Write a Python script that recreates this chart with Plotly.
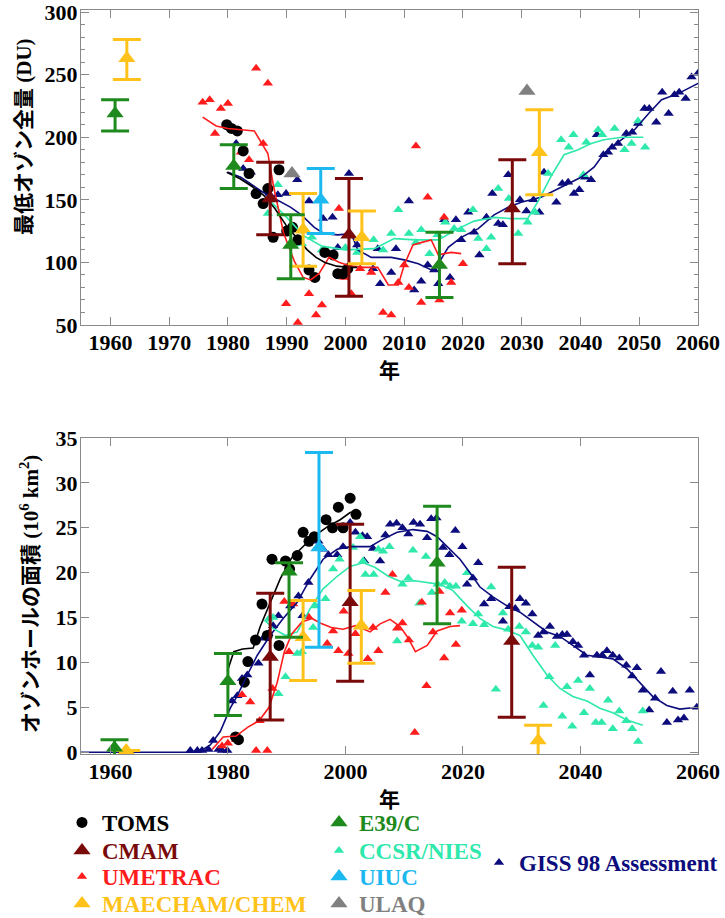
import plotly.graph_objects as go

# ---------------- Top panel: minimum total ozone (DU) ----------------
toms_min_year = [1979.8, 1980.6, 1981.6, 1982.6, 1983.6, 1984.8, 1986.0, 1986.8, 1987.7, 1988.7,
                 1990.0, 1991.0, 1991.9, 1993.8, 1994.8, 1996.5, 1997.9, 1998.7, 1999.6, 2000.4]
toms_min_du = [210, 207, 205, 189, 171, 155, 147, 159, 120, 174,
               125, 128, 118, 94, 88, 108, 106, 91, 91, 95]
toms_min_fit_year = [1979.8, 1982, 1984, 1986, 1988, 1990, 1992, 1993.5, 1995, 1996.5, 1998.5, 2000.5, 2002]
toms_min_fit_du = [172, 167, 161, 154, 143, 129, 118, 110, 104, 100, 97, 96, 96]

umetrac_min_year = [1975.7, 1976.9, 1977.8, 1978.8, 1980.0, 1982.2, 1983.6, 1984.8, 1986.0, 1986.8,
                    1989.9, 1991.9, 1993.8, 1995.0, 1996.0, 1998.9, 1999.8, 2001.0, 2002.5, 2004.4,
                    2006.4, 2007.8, 2009.0, 2010.0, 2010.8, 2012.0, 2012.9, 2014.0, 2016.0, 2016.8,
                    2018.0, 2020.0]
umetrac_min_du = [228, 230, 203, 223, 227, 188, 182, 255, 195, 243,
                  67, 52, 75, 58, 66, 143, 88, 75, 95, 92,
                  60, 58, 84, 98, 80, 193, 68, 152, 70, 136,
                  84, 99]
umetrac_min_fit_year = [1975.7, 1978, 1980, 1982, 1984.5, 1986.8, 1987.8, 1989.5, 1991.3, 1992.8,
                        1994.1, 1995.5, 1997.2, 1999, 2001, 2003, 2005.5, 2007.3, 2009, 2010,
                        2011.5, 2013, 2014.6, 2015.8, 2018, 2019.7]
umetrac_min_fit_du = [216, 209, 207, 206, 205, 187, 160, 123, 101, 88,
                      86, 91, 104, 100, 97, 96, 96, 82, 82, 98,
                      114, 116, 118, 106, 108, 107]

ccsr_min_year = [1986.8, 1988.5, 1992.6, 1994.3, 1996.0, 1998.0, 2000.0, 2002.0, 2004.8, 2006.4,
                 2007.8, 2009.0, 2010.8, 2012.0, 2012.9, 2014.3, 2015.7, 2017.0, 2018.5, 2019.7,
                 2021.7, 2022.6, 2024.0, 2024.8, 2026.0, 2027.8, 2029.4, 2031.0, 2032.3, 2034.5,
                 2036.7, 2038.0, 2038.8, 2040.5, 2041.0, 2043.0, 2043.7, 2045.8, 2047.5, 2048.7,
                 2049.8, 2051.0]
ccsr_min_du = [139, 162, 115, 120, 110, 105, 112, 108, 118, 110,
               123, 142, 123, 116, 126, 107, 122, 132, 127, 126,
               142, 119, 111, 120, 159, 151, 123, 132, 140, 171,
               198, 192, 202, 170, 196, 206, 202, 207, 190, 195,
               213, 192]
ccsr_min_fit_year = [1987, 1990, 1993, 1996, 2000, 2004.9, 2008.3, 2012, 2015.8, 2019.2,
                     2021.9, 2025.3, 2028.2, 2031, 2032.8, 2035, 2037.2, 2039.6, 2041.8, 2044,
                     2047, 2050.7]
ccsr_min_fit_du = [150, 136, 121, 113, 110, 111, 119, 118, 118, 127,
                   133, 136, 135, 135, 149, 169, 186, 190, 195, 198,
                   200, 200]

giss_min_year = [1981.4, 1982.6, 1983.9, 1987.0, 1988.5, 1989.9, 1991.8, 1993.8, 1996.2, 1997.8,
                 1998.7, 2000.6, 2002.0, 2004.7, 2005.5, 2005.9, 2007.8, 2008.6, 2010.8, 2011.7,
                 2012.9, 2014.0, 2015.1, 2015.8, 2016.8, 2017.8, 2018.8, 2019.7, 2020.9, 2021.9,
                 2022.8, 2024.0, 2025.0, 2026.0, 2026.8, 2027.7, 2029.7, 2030.8, 2032.0, 2033.0,
                 2033.8, 2035.9, 2036.9, 2037.9, 2038.9, 2039.8, 2040.8, 2041.8, 2042.8, 2043.9,
                 2044.7, 2045.4, 2046.4, 2047.8, 2048.8, 2049.8, 2050.9, 2051.7, 2052.9, 2053.9,
                 2055.0, 2056.0, 2056.8, 2057.9, 2058.9, 2060.0]
giss_min_du = [195, 175, 172, 155, 154, 155, 166, 149, 135, 136,
               112, 171, 114, 95, 111, 83, 92, 111, 149, 78,
               85, 98, 94, 83, 134, 88, 134, 118, 140, 124,
               106, 136, 155, 131, 130, 170, 150, 141, 150, 140,
               172, 148, 163, 164, 155, 158, 168, 166, 202, 186,
               188, 192, 195, 203, 204, 211, 223, 223, 212, 236,
               219, 234, 236, 231, 248, 251]
giss_min_fit_year = [1980, 1982.2, 1986, 1990.7, 1992.5, 1994.7, 1996.4, 1998.7, 2001, 2002.1,
                     2004.4, 2007.8, 2010, 2012.4, 2014.6, 2015.8, 2017.5, 2019.7, 2022.6, 2025.3,
                     2027.7, 2029.9, 2033.3, 2036.7, 2040.1, 2042.3, 2044, 2047, 2049.2, 2051.6,
                     2053.8, 2056.7, 2060]
giss_min_fit_du = [172, 168, 156, 144, 138, 128, 123, 122, 123, 110,
                   104, 104, 102, 99, 94, 99, 112, 120, 127, 138,
                   144, 148, 152, 160, 168, 176, 187, 198, 206, 219,
                   230, 235, 243]

cmam_min_year = [1987.2, 2000.6, 2028.4]
cmam_min_du = [151, 122, 143]
cmam_min_hi = [180, 167, 182]
cmam_min_lo = [122, 73, 99]

maecham_min_year = [1962.8, 1992.8, 2002.8, 2033.0]
maecham_min_du = [263, 126, 120, 188]
maecham_min_hi = [278, 155, 141, 222]
maecham_min_lo = [246, 97, 99, 154]

e39c_min_year = [1960.8, 1981.0, 1990.7, 2016.0]
e39c_min_du = [219, 177, 114, 98]
e39c_min_hi = [230, 194, 138, 124]
e39c_min_lo = [205, 159, 87, 72]

uiuc_min_year = [1995.8]
uiuc_min_du = [150]
uiuc_min_hi = [175]
uiuc_min_lo = [123]

ulaq_min_year = [1990.9, 2030.9]
ulaq_min_du = [171, 237]

# ---------------- Bottom panel: ozone hole area (10^6 km^2) ----------------
toms_area_year = [1981.3, 1981.8, 1982.8, 1983.4, 1984.7, 1985.8, 1986.7, 1987.5, 1988.7, 1989.8,
                  1990.5, 1991.8, 1992.8, 1993.8, 1994.7, 1996.7, 1997.8, 1998.8, 1999.6, 2000.8,
                  2001.8]
toms_area_val = [1.7, 1.4, 7.8, 10.1, 12.5, 16.5, 13.0, 21.5, 11.9, 21.3,
                 20.4, 21.9, 24.5, 23.5, 24.0, 25.9, 25.0, 27.3, 25.0, 28.3,
                 26.5]
toms_area_fit_year = [1979.9, 1981, 1982.5, 1984.3, 1985.5, 1987.2, 1988.9, 1990.9, 1992.8, 1994.5,
                      1996.9, 1999.1, 2000.8, 2001.7]
toms_area_fit_val = [9.0, 11.2, 11.5, 11.6, 14.0, 16.7, 19.3, 21.7, 22.9, 24.0,
                     25.1, 25.9, 26.7, 26.8]

umetrac_area_year = [1979.0, 1980.0, 1981.4, 1982.4, 1983.8, 1984.8, 1985.4, 1986.7, 1987.6, 1989.6,
                     1990.4, 1991.1, 1993.7, 1996.9, 1997.9, 1998.8, 1999.7, 2000.5, 2001.7, 2003.8,
                     2004.7, 2005.6, 2006.8, 2008.0, 2008.8, 2009.7, 2010.8, 2011.8, 2013.0, 2013.8,
                     2014.9, 2016.0, 2016.8, 2017.8, 2018.8, 2019.8]
umetrac_area_val = [0.7, 1.0, 1.4, 6.4, 5.6, 0.2, 3.5, 0.2, 7.1, 16.8,
                    11.2, 16.5, 15.1, 12.1, 13.5, 11.3, 15.7, 11.0, 13.2, 10.4,
                    13.9, 11.3, 17.8, 19.8, 13.8, 14.4, 12.5, 2.2, 16.7, 7.4,
                    13.4, 17.9, 10.5, 15.5, 12.0, 15.8]
umetrac_area_fit_year = [1977.3, 1979.2, 1981.4, 1983.4, 1985.3, 1987.0, 1988.4, 1989.6, 1990.9, 1992.6,
                         1994.3, 1996.0, 1997.6, 1999.6, 2001.7, 2004.2, 2005.9, 2007.6, 2009.3, 2010.7,
                         2011.9, 2013.9, 2015.6, 2017.8, 2019.5]
umetrac_area_fit_val = [0.3, 1.7, 1.8, 2.8, 3.5, 5.0, 7.8, 11.2, 13.2, 14.5,
                        14.9, 14.3, 13.9, 13.7, 14.1, 13.4, 14.3, 14.8, 14.0, 12.7,
                        11.2, 11.9, 13.5, 14.0, 14.1]

ccsr_area_year = [1986.9, 1987.7, 1988.6, 1989.8, 1991.8, 1992.6, 1994.5, 1994.9, 1996.6, 1997.9,
                  1999.0, 2001.3, 2002.5, 2003.0, 2003.4, 2004.8, 2005.6, 2006.4, 2007.5, 2008.8,
                  2009.7, 2010.7, 2011.5, 2012.6, 2013.7, 2014.7, 2015.7, 2016.9, 2017.8, 2018.8,
                  2019.8, 2020.7, 2021.7, 2022.6, 2023.6, 2024.8, 2025.6, 2026.8, 2027.7, 2029.6,
                  2030.7, 2031.8, 2032.8, 2033.7, 2034.7, 2035.7, 2036.9, 2037.7, 2038.6, 2039.6,
                  2040.6, 2041.6, 2042.6, 2043.6, 2044.7, 2045.5, 2046.6, 2047.8, 2048.8, 2049.8,
                  2050.6]
ccsr_area_val = [14.8, 15.0, 6.5, 8.4, 11.0, 11.2, 13.9, 16.3, 17.1, 20.4,
                 21.5, 22.8, 24.0, 21.3, 19.8, 19.8, 22.6, 22.4, 22.9, 12.4,
                 18.7, 19.4, 22.5, 16.6, 21.8, 17.8, 18.7, 18.9, 18.5, 18.5,
                 14.6, 20.0, 14.3, 15.4, 14.2, 18.4, 7.0, 15.5, 13.7, 14.0,
                 13.4, 11.9, 11.7, 5.2, 8.4, 11.9, 4.0, 7.3, 2.9, 8.0,
                 4.4, 7.1, 3.3, 3.3, 5.8, 2.6, 4.6, 3.5, 2.6, 1.2,
                 4.6]
ccsr_area_fit_year = [1986.4, 1987.7, 1989.8, 1991.8, 1994.0, 1996.2, 1998.6, 2000.8, 2003.0, 2005.0,
                      2007.3, 2009.5, 2011.8, 2013.9, 2016.1, 2018.3, 2020.7, 2022.9, 2025.1, 2027.5,
                      2029.7, 2031.9, 2034.3, 2036.5, 2038.7, 2041.1, 2043.3, 2045.5, 2047.9, 2050.6]
ccsr_area_fit_val = [14.6, 13.8, 13.0, 13.4, 16.0, 18.2, 19.6, 20.7, 21.1, 20.6,
                     19.6, 19.0, 19.1, 18.9, 18.7, 18.0, 16.3, 14.9, 14.0, 13.6,
                     13.0, 10.8, 8.6, 7.1, 6.2, 5.7, 4.9, 4.4, 3.6, 3.0]

giss_area_year = [1973.6, 1974.8, 1975.6, 1976.7, 1977.5, 1978.4, 1979.0, 1979.9, 1980.7, 1981.6,
                  1982.4, 1983.3, 1985.2, 1986.0, 1986.9, 1987.7, 1988.6, 1990.6, 1992.0, 1992.7,
                  1993.7, 1995.4, 1996.2, 1997.1, 1998.6, 1999.6, 2000.8, 2001.7, 2002.9, 2003.2,
                  2003.7, 2004.7, 2005.9, 2006.8, 2007.6, 2008.7, 2009.7, 2010.7, 2011.6, 2012.7,
                  2013.9, 2014.6, 2015.5, 2016.6, 2017.7, 2018.7, 2019.9, 2020.7, 2021.7, 2022.6,
                  2023.6, 2024.8, 2026.8, 2027.9, 2028.9, 2029.7, 2030.7, 2031.8, 2032.8, 2033.7,
                  2034.8, 2036.0, 2036.9, 2037.7, 2038.7, 2039.6, 2040.6, 2041.6, 2042.8, 2043.7,
                  2044.5, 2045.5, 2046.6, 2047.8, 2048.8, 2049.6, 2050.6, 2051.7, 2052.7, 2053.7,
                  2054.7, 2055.7, 2056.6, 2057.6, 2058.6, 2059.8]
giss_area_val = [0.2, 0.2, 0.2, 0.3, 1.3, 0.3, 0.2, 0.2, 5.7, 6.3,
                 8.2, 8.6, 9.9, 12.7, 13.2, 14.1, 15.2, 16.3, 17.4, 15.2,
                 18.9, 23.5, 22.6, 22.0, 22.0, 22.9, 25.6, 24.5, 24.1, 21.3,
                 24.0, 22.7, 21.3, 24.2, 25.4, 25.5, 25.0, 24.3, 25.6, 25.4,
                 23.9, 26.0, 26.1, 22.8, 22.0, 24.7, 22.9, 18.7, 19.4, 21.1,
                 16.5, 17.1, 14.6, 16.2, 16.0, 17.1, 16.6, 15.4, 13.0, 13.4,
                 14.0, 12.9, 13.1, 13.1, 12.3, 11.9, 10.8, 8.6, 10.8, 10.8,
                 11.3, 10.8, 10.5, 9.7, 8.5, 9.4, 6.9, 4.7, 6.0, 9.0,
                 3.3, 6.8, 3.6, 3.8, 6.9, 5.0]
giss_area_fit_year = [1955, 1975, 1977, 1978.7, 1980.4, 1981.6, 1983.3, 1985, 1987.2, 1989.4,
                      1991.8, 1994, 1996.2, 1998.6, 2000.8, 2004.2, 2006, 2008.8, 2011.5, 2013.9,
                      2015.6, 2017.8, 2019.5, 2021.2, 2022.9, 2025.1, 2027.5, 2029.7, 2031.9, 2034.3,
                      2036.5, 2038.7, 2041.1, 2043.3, 2045.5, 2047.9, 2050.1, 2052.3, 2054.7, 2056.9,
                      2059.8]
giss_area_fit_val = [0, 0, 0.8, 2.3, 4.9, 6.3, 8.6, 10.8, 13.0, 14.9,
                     16.7, 19.3, 21.5, 22.6, 22.9, 22.9, 23.6, 24.5, 24.8, 24.6,
                     24.0, 22.6, 21.5, 20.0, 18.4, 17.3, 16.3, 15.6, 14.5, 13.4,
                     12.9, 11.9, 10.8, 10.6, 10.4, 9.3, 7.7, 6.2, 5.2, 4.8,
                     5.0]

cmam_area_year = [1987.2, 2000.8, 2028.3]
cmam_area_val = [10.6, 16.7, 12.4]
cmam_area_hi = [17.7, 25.4, 20.6]
cmam_area_lo = [3.6, 7.9, 3.9]

maecham_area_year = [1962.7, 1992.8, 2002.7, 2032.8]
maecham_area_val = [0.2, 12.8, 14.1, 1.3]
maecham_area_hi = [0.2, 16.9, 18.0, 3.0]
maecham_area_lo = [0.2, 8.0, 9.9, -1.1]

e39c_area_year = [1960.7, 1980.0, 1990.4, 2015.6]
e39c_area_val = [0.5, 7.9, 20.1, 21.1]
e39c_area_hi = [1.4, 11.0, 21.1, 27.4]
e39c_area_lo = [-0.6, 4.1, 12.8, 14.3]

uiuc_area_year = [1995.5]
uiuc_area_val = [22.8]
uiuc_area_hi = [33.4]
uiuc_area_lo = [11.7]

# legend entries in reading order
legend_names = ["TOMS", "CMAM", "UMETRAC", "MAECHAM/CHEM", "E39/C", "CCSR/NIES", "UIUC", "ULAQ",
                "GISS 98 Assessment"]

# ---------------- styling ----------------
C_TOMS = "#000000"
C_CMAM = "#7a0a0a"
C_UMETRAC = "#ff1c1c"
C_MAECHAM = "#ffc21a"
C_E39C = "#1e8a1e"
C_CCSR = "#2ee8ac"
C_UIUC = "#1cb8f0"
C_ULAQ = "#808080"
C_GISS = "#0c0c7c"

SERIF = "Liberation Serif, Times New Roman, Noto Sans CJK JP"
W, H = 725, 918

# legend boxes: left px, top px
LEG_POS = {
    "legend": (62, 801), "legend2": (62, 829), "legend3": (62, 855), "legend4": (62, 882),
    "legend5": (319, 801), "legend6": (319, 829), "legend7": (319, 855), "legend8": (319, 882),
    "legend9": (479, 841),
}

fig = go.Figure()


def label(name, color):
    return f'<span style="color:{color}">{name}</span>'


def pts(x, y, color, name, size, xa, ya, legend=None, symbol="triangle-up"):
    fig.add_trace(go.Scatter(
        x=x, y=y, mode="markers", xaxis=xa, yaxis=ya,
        marker=dict(symbol=symbol, size=size, color=color, line=dict(width=0)),
        name=label(name, color), showlegend=legend is not None,
        legend=legend or "legend", hoverinfo="x+y"))


def fit(x, y, color, xa, ya):
    fig.add_trace(go.Scatter(
        x=x, y=y, mode="lines", xaxis=xa, yaxis=ya, line=dict(color=color, width=1.6),
        showlegend=False, hoverinfo="skip"))


def bars(x, y, hi, lo, color, name, xa, ya, legend=None):
    fig.add_trace(go.Scatter(
        x=x, y=y, mode="markers", xaxis=xa, yaxis=ya, cliponaxis=False,
        marker=dict(symbol="triangle-up", size=15, color=color, line=dict(width=0)),
        error_y=dict(type="data", symmetric=False,
                     array=[h - v for h, v in zip(hi, y)],
                     arrayminus=[v - l for v, l in zip(y, lo)],
                     color=color, thickness=3, width=14),
        name=label(name, color), showlegend=legend is not None,
        legend=legend or "legend", hoverinfo="x+y"))


# top panel
pts(giss_min_year, giss_min_du, C_GISS, legend_names[8], 9, "x", "y", "legend9")
pts(ccsr_min_year, ccsr_min_du, C_CCSR, legend_names[5], 9, "x", "y", "legend6")
pts(umetrac_min_year, umetrac_min_du, C_UMETRAC, legend_names[2], 9, "x", "y", "legend3")
pts(toms_min_year, toms_min_du, C_TOMS, legend_names[0], 11, "x", "y", "legend", symbol="circle")
fit(giss_min_fit_year, giss_min_fit_du, C_GISS, "x", "y")
fit(ccsr_min_fit_year, ccsr_min_fit_du, C_CCSR, "x", "y")
fit(umetrac_min_fit_year, umetrac_min_fit_du, C_UMETRAC, "x", "y")
fit(toms_min_fit_year, toms_min_fit_du, C_TOMS, "x", "y")
bars(cmam_min_year, cmam_min_du, cmam_min_hi, cmam_min_lo, C_CMAM, legend_names[1], "x", "y", "legend2")
bars(maecham_min_year, maecham_min_du, maecham_min_hi, maecham_min_lo, C_MAECHAM, legend_names[3], "x", "y", "legend4")
bars(e39c_min_year, e39c_min_du, e39c_min_hi, e39c_min_lo, C_E39C, legend_names[4], "x", "y", "legend5")
bars(uiuc_min_year, uiuc_min_du, uiuc_min_hi, uiuc_min_lo, C_UIUC, legend_names[6], "x", "y", "legend7")
fig.add_trace(go.Scatter(
    x=ulaq_min_year, y=ulaq_min_du, mode="markers", xaxis="x", yaxis="y",
    marker=dict(symbol="triangle-up", size=15, color=C_ULAQ),
    name=label(legend_names[7], C_ULAQ), legend="legend8"))

# bottom panel
pts(giss_area_year, giss_area_val, C_GISS, legend_names[8], 9, "x2", "y2")
pts(ccsr_area_year, ccsr_area_val, C_CCSR, legend_names[5], 9, "x2", "y2")
pts(umetrac_area_year, umetrac_area_val, C_UMETRAC, legend_names[2], 9, "x2", "y2")
pts(toms_area_year, toms_area_val, C_TOMS, legend_names[0], 11, "x2", "y2", symbol="circle")
fit(giss_area_fit_year, giss_area_fit_val, C_GISS, "x2", "y2")
fit(ccsr_area_fit_year, ccsr_area_fit_val, C_CCSR, "x2", "y2")
fit(umetrac_area_fit_year, umetrac_area_fit_val, C_UMETRAC, "x2", "y2")
fit(toms_area_fit_year, toms_area_fit_val, C_TOMS, "x2", "y2")
bars(cmam_area_year, cmam_area_val, cmam_area_hi, cmam_area_lo, C_CMAM, legend_names[1], "x2", "y2")
bars(maecham_area_year, maecham_area_val, maecham_area_hi, maecham_area_lo, C_MAECHAM, legend_names[3], "x2", "y2")
bars(e39c_area_year, e39c_area_val, e39c_area_hi, e39c_area_lo, C_E39C, legend_names[4], "x2", "y2")
bars(uiuc_area_year, uiuc_area_val, uiuc_area_hi, uiuc_area_lo, C_UIUC, legend_names[6], "x2", "y2")

tickfont = dict(family=SERIF, size=22, color="black", weight="bold")
titlefont = dict(family=SERIF, size=21, color="black", weight="bold")
axcommon = dict(showline=True, linecolor="#8a8a8a", linewidth=1, mirror="allticks",
                ticks="inside", tickcolor="#8a8a8a", showgrid=False, zeroline=False,
                tickfont=tickfont, ticklabeloverflow="allow")

legends = {}
for key, (lx, ly) in LEG_POS.items():
    legends[key] = dict(bgcolor="rgba(0,0,0,0)", font=dict(family=SERIF, size=23, weight="bold"),
                        xref="container", yref="container", x=lx / W, y=1 - ly / H,
                        xanchor="left", yanchor="top", itemsizing="trace")

fig.update_layout(
    width=W, height=H,
    margin=dict(l=81, r=27, t=10, b=164, autoexpand=False),
    paper_bgcolor="white", plot_bgcolor="white",
    xaxis=dict(domain=[0, 1], anchor="y", range=[1955, 2060], tickvals=list(range(1960, 2061, 10)),
               ticklen=8, ticklabelstandoff=-2,
               title=dict(text="年", font=titlefont, standoff=8), **axcommon),
    yaxis=dict(domain=[0.5766, 1], anchor="x", range=[50, 301.6], tickvals=[50, 100, 150, 200, 250, 300],
               ticklen=8, ticklabelstandoff=-2,
               minor=dict(dtick=10, ticklen=4, ticks="inside", tickcolor="#8a8a8a"),
               **axcommon),
    xaxis2=dict(domain=[0, 1], anchor="y2", range=[1955, 2060], tickvals=list(range(1960, 2061, 20)),
                ticklen=8, ticklabelstandoff=-2,
                title=dict(text="年", font=titlefont, standoff=8), **axcommon),
    yaxis2=dict(domain=[0, 0.4247], anchor="x2", range=[-0.2, 35], tickvals=[0, 5, 10, 15, 20, 25, 30, 35],
                ticklen=8, ticklabelstandoff=-2, **axcommon),
    annotations=[
        dict(text="最低オゾン全量 (DU)", textangle=-90, xref="paper", yref="paper",
             x=(24 - 81) / 617, y=(754 - 137) / 744, xanchor="center", yanchor="middle",
             showarrow=False, font=titlefont),
        dict(text="オゾンホールの面積 (10<sup>6</sup> km<sup>2</sup>)", textangle=-90,
             xref="paper", yref="paper", x=(29 - 81) / 617, y=(754 - 594) / 744,
             xanchor="center", yanchor="middle", showarrow=False, font=titlefont),
    ],
    showlegend=True,
    **legends,
)

fig.write_html("out.html", config={"displayModeBar": False},
               post_script="document.body.style.margin='0px';")
